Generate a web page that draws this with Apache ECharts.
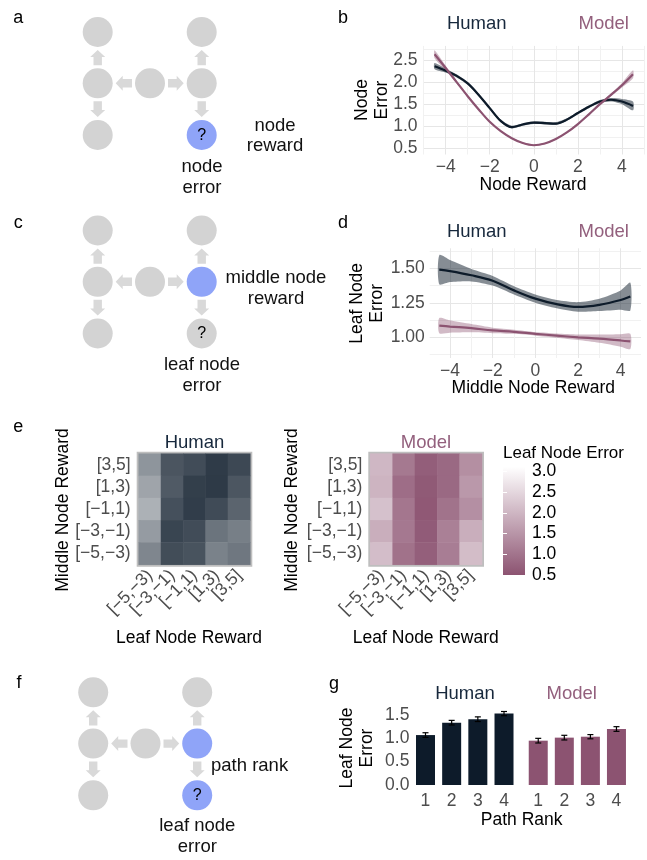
<!DOCTYPE html>
<html><head><meta charset="utf-8">
<script src="https://cdn.jsdelivr.net/npm/echarts@6/dist/echarts.min.js"></script>
<style>html,body{margin:0;padding:0;background:#fff}#c{width:647px;height:860px}</style>
</head><body><div id="c"></div>
<script>
// ---------- data ----------
const nodeRewardX = [-4.5,-4,-3.5,-3,-2.5,-2,-1.5,-1,-0.5,0,0.5,1,1.5,2,2.5,3,3.5,4,4.5];
const humanNodeErr = [2.36,2.26,2.14,1.97,1.71,1.41,1.12,0.98,1.04,1.08,1.07,1.06,1.15,1.30,1.44,1.56,1.60,1.56,1.46];
const humanNodeSe  = [0.07,0.045,0.035,0.03,0.03,0.03,0.03,0.03,0.03,0.03,0.03,0.03,0.03,0.03,0.03,0.035,0.04,0.06,0.10];
const modelNodeErr = [2.63,2.32,2.00,1.68,1.38,1.10,0.89,0.73,0.62,0.57,0.61,0.71,0.86,1.05,1.27,1.50,1.71,1.93,2.18];
const modelNodeSe  = [0.09,0.05,0.03,0.02,0.02,0.015,0.015,0.015,0.015,0.015,0.015,0.015,0.015,0.015,0.02,0.02,0.03,0.05,0.09];

const middleRewardX = [-4.5,-4,-3,-2,-1,0,1,2,3,4,4.45];
const humanLeafErr = [1.49,1.48,1.45,1.41,1.34,1.28,1.24,1.22,1.235,1.27,1.295];
const humanLeafSe  = [0.105,0.08,0.045,0.035,0.03,0.03,0.03,0.035,0.045,0.07,0.10];
const modelLeafErr = [1.085,1.078,1.066,1.05,1.04,1.025,1.012,1.0,0.99,0.977,0.97];
const modelLeafSe  = [0.055,0.045,0.03,0.02,0.015,0.013,0.015,0.02,0.03,0.045,0.055];

const heatCats = ['[\u22125,\u22123)','[\u22123,\u22121)','[\u22121,1)','[1,3)','[3,5]'];
// rows listed top ([3,5]) to bottom ([-5,-3)), columns left to right
const humanHeat = [
  [1.90,1.17,1.06,0.87,1.02],
  [2.08,1.22,0.91,0.86,1.18],
  [2.22,1.11,0.89,1.05,1.34],
  [1.97,0.98,1.06,1.52,1.65],
  [1.73,1.07,1.14,1.68,1.56]
];
const modelHeat = [
  [2.03,1.08,0.66,0.83,1.41],
  [1.98,0.90,0.60,0.83,1.55],
  [2.17,1.04,0.58,0.98,1.42],
  [1.88,1.07,0.62,1.18,1.88],
  [2.12,0.97,0.69,1.14,2.11]
];
const legendRange = [0.5, 3.12];
const legendTicks = [0.5,1.0,1.5,2.0,2.5,3.0];

const pathRanks = ['1','2','3','4'];
const humanPathErr = [1.07,1.335,1.41,1.53];
const humanPathSe  = [0.05,0.05,0.05,0.045];
const modelPathErr = [0.95,1.015,1.035,1.20];
const modelPathSe  = [0.05,0.05,0.045,0.05];

const bYTicks = [0.5,0.75,1,1.25,1.5,1.75,2,2.25,2.5,2.75];
const bYLabels = [0.5,1,1.5,2,2.5];
const dXTicks = [-4,-3,-2,-1,0,1,2,3,4];
const dXLabels = [-4,-2,0,2,4];
const dYTicks = [0.875,1,1.125,1.25,1.375,1.5,1.625];
const dYLabels = [1,1.25,1.5];
const gYLabels = [0,0.5,1,1.5];

// ---------- style ----------
const FONT = '"Liberation Sans", Arial, Helvetica, sans-serif';
const HUMAN = '#0D1B2A', MODEL = '#8C5371';
const HUMAN_TXT = '#17283C', MODEL_TXT = '#93607D';
const MAJ = '#E6E6E6', MIN = '#F1F1F1';
const TICK = '#4D4D4D';
const NODE = '#D3D3D3', ARROW = '#D9D9D9', BLUE = '#8FA4F8';
const TS = 17.5;

function signed(v, d){ const s = Math.abs(v).toFixed(d); return v < -1e-9 ? '\u2212' + s : s; }

function band(xs, ys, se, color, xi, yi){
  return {type:'custom', xAxisIndex:xi, yAxisIndex:yi, data:[[xs[0], ys[0]]], silent:true, clip:true, z:1,
    renderItem:(params, api) => {
      const up = xs.map((x,i)=>api.coord([x, ys[i]+se[i]]));
      const lo = xs.map((x,i)=>api.coord([x, ys[i]-se[i]])).reverse();
      return {type:'polygon', shape:{points: up.concat(lo), smooth:0.25}, style:{fill:color}};
    }};
}
function curve(xs, ys, color, xi, yi){
  return {type:'line', xAxisIndex:xi, yAxisIndex:yi, data: xs.map((x,i)=>[x, ys[i]]),
    smooth:0.35, symbol:'none', lineStyle:{color, width:2.2}, itemStyle:{color}, silent:true, z:3};
}
function heatData(m){
  const out = [];
  m.forEach((row, r) => row.forEach((v, c) => out.push([c, m.length-1-r, v])));
  return out;
}
function errSeries(vals, ses, xi, yi){
  return {type:'custom', xAxisIndex:xi, yAxisIndex:yi, z:5, silent:true,
    data: vals.map((v,i)=>[i, v, ses[i]]), encode:{x:0, y:1},
    renderItem:(params, api) => {
      const i = api.value(0), v = api.value(1), e = api.value(2);
      const t = api.coord([i, v+e]), b = api.coord([i, v-e]), w = 3;
      const st = {stroke:'#000', lineWidth:1.2};
      return {type:'group', children:[
        {type:'line', shape:{x1:t[0], y1:t[1], x2:b[0], y2:b[1]}, style:st},
        {type:'line', shape:{x1:t[0]-w, y1:t[1], x2:t[0]+w, y2:t[1]}, style:st},
        {type:'line', shape:{x1:b[0]-w, y1:b[1], x2:b[0]+w, y2:b[1]}, style:st}
      ]};
    }};
}

// ---------- graphic helpers ----------
function txt(x, y, s, o){
  o = o || {};
  return {type:'text', x, y, z:100, silent:true, rotation:o.rotation||0,
    style:{text:s, fontFamily:FONT, fontSize:o.size||18, fill:o.color||'#000',
      align:o.align||'center', textAlign:o.align||'center', verticalAlign:'middle', textVerticalAlign:'middle',
      lineHeight:o.lh||20}};
}
function arrowPoly(a, b){
  const dx = b[0]-a[0], dy = b[1]-a[1], L = Math.hypot(dx, dy);
  const ux = dx/L, uy = dy/L, nx = -uy, ny = ux, off = 18;
  const tail = [a[0]+ux*off, a[1]+uy*off], tip = [b[0]-ux*off, b[1]-uy*off];
  const neck = [tip[0]-ux*7, tip[1]-uy*7], sw = 4.2, hw = 7.5;
  const p = (q, s) => [q[0]+nx*s, q[1]+ny*s];
  return {type:'polygon', silent:true, z:50, shape:{points:[p(tail,sw), p(neck,sw), p(neck,hw), tip, p(neck,-hw), p(neck,-sw), p(tail,-sw)]}, style:{fill:ARROW}};
}
function diagram(dx, dy, blue, q){
  const cols = [97.7+dx, 150+dx, 201.7+dx], rows = [32+dy, 83.3+dy, 135+dy];
  const N = {TL:[cols[0],rows[0]], ML:[cols[0],rows[1]], BL:[cols[0],rows[2]], C:[cols[1],rows[1]],
             TR:[cols[2],rows[0]], MR:[cols[2],rows[1]], BR:[cols[2],rows[2]]};
  const els = [];
  Object.keys(N).forEach(k => els.push({type:'circle', silent:true, z:50, shape:{cx:N[k][0], cy:N[k][1], r:15},
    style:{fill: blue.indexOf(k) >= 0 ? BLUE : NODE}}));
  [['C','ML'],['C','MR'],['ML','TL'],['ML','BL'],['MR','TR'],['MR','BR']].forEach(e => els.push(arrowPoly(N[e[0]], N[e[1]])));
  els.push(txt(N[q][0], N[q][1]+0.5, '?', {size:16}));
  return els;
}

const graphics = [].concat(
  diagram(0, 0, ['BR'], 'BR'),
  diagram(0, 198.5, ['MR'], 'BR'),
  diagram(-4.5, 660.3, ['MR','BR'], 'BR'),
  [
    txt(18.3, 18.3, 'a'), txt(343, 18, 'b'), txt(18.3, 223.3, 'c'), txt(343, 223, 'd'),
    txt(18.3, 427, 'e'), txt(19, 683, 'f'), txt(334, 684, 'g'),
    txt(275, 136, 'node\nreward', {size:18.5, color:'#111', lh:20}),
    txt(202, 177.5, 'node\nerror', {size:18.5, color:'#111', lh:21}),
    txt(276, 288.5, 'middle node\nreward', {size:18.5, color:'#111', lh:21}),
    txt(202, 375.5, 'leaf node\nerror', {size:18.5, color:'#111', lh:21}),
    txt(211, 765.7, 'path rank', {size:18.5, color:'#111', align:'left'}),
    txt(197.3, 836.2, 'leaf node\nerror', {size:18.5, color:'#111', lh:21}),
    // panel titles
    txt(476.7, 24, 'Human', {size:18.5, color:HUMAN_TXT}), txt(603.7, 24, 'Model', {size:18.5, color:MODEL_TXT}),
    txt(476.7, 231.7, 'Human', {size:18.5, color:HUMAN_TXT}), txt(603.7, 231.7, 'Model', {size:18.5, color:MODEL_TXT}),
    txt(194.5, 443, 'Human', {size:18.5, color:HUMAN_TXT}), txt(426, 443, 'Model', {size:18.5, color:MODEL_TXT}),
    txt(465, 694, 'Human', {size:18.5, color:HUMAN_TXT}), txt(571.7, 694, 'Model', {size:18.5, color:MODEL_TXT}),
    // axis titles
    txt(533, 185, 'Node Reward', {size:17.5}),
    txt(371.7, 100, 'Node\nError', {size:17.5, rotation:Math.PI/2, lh:20}),
    txt(533.3, 388.3, 'Middle Node Reward', {size:17.5}),
    txt(366.7, 303.3, 'Leaf Node\nError', {size:17.5, rotation:Math.PI/2, lh:20}),
    txt(63, 510, 'Middle Node Reward', {size:17.5, rotation:Math.PI/2}),
    txt(291.7, 510, 'Middle Node Reward', {size:17.5, rotation:Math.PI/2}),
    txt(189, 638, 'Leaf Node Reward', {size:17.5}),
    txt(425.8, 638, 'Leaf Node Reward', {size:17.5}),
    txt(503, 453, 'Leaf Node Error', {size:17, align:'left'}),
    txt(521.7, 820, 'Path Rank', {size:17.5}),
    txt(356.7, 748, 'Leaf Node\nError', {size:17.5, rotation:Math.PI/2, lh:20})
  ]
);

// ---------- axes ----------
const lbl = (o) => Object.assign({fontSize:TS, color:TICK, fontFamily:FONT}, o);
const noLine = {show:false};

const option = {
  animation:false,
  textStyle:{fontFamily:FONT},
  grid:[
    {left:423.6, top:45.9, width:221.2, height:108.6},          // b
    {left:429.7, top:248.3, width:211.3, height:109.7},         // d
    {left:138.7, top:453.7, width:111.6, height:111, show:true, borderColor:'#BEBEBE', borderWidth:4, backgroundColor:'transparent'}, // e human
    {left:370.3, top:453.7, width:111.7, height:111, show:true, borderColor:'#BEBEBE', borderWidth:4, backgroundColor:'transparent'}, // e model
    {left:503, top:466.7, width:22, height:108.3},               // colour bar
    {left:412.4, top:708, width:104.7, height:77},               // g human
    {left:525.2, top:708, width:104.3, height:77}                // g model
  ],
  xAxis:[
    {gridIndex:0, type:'value', min:-5, max:5, interval:1, axisLine:noLine, axisTick:{show:false},
      axisLabel:lbl({margin:4, formatter:v => (Math.round(v)%2===0 && Math.abs(v)<5) ? signed(v,0) : ''}),
      splitLine:{show:true, lineStyle:{color:[MIN, MAJ], width:1}}},
    {gridIndex:1, type:'value', min:-4.95, max:4.95, axisLine:noLine, axisTick:{show:false, customValues:dXTicks},
      axisLabel:lbl({margin:4, customValues:dXLabels, formatter:v => signed(v,0)}),
      splitLine:{show:true, lineStyle:{color:[MAJ, MIN], width:1}}},
    {gridIndex:2, type:'category', data:heatCats, axisLine:noLine, axisTick:{show:false}, splitLine:{show:false},
      axisLabel:lbl({rotate:45, margin:8, interval:0})},
    {gridIndex:3, type:'category', data:heatCats, axisLine:noLine, axisTick:{show:false}, splitLine:{show:false},
      axisLabel:lbl({rotate:45, margin:8, interval:0})},
    {gridIndex:4, type:'value', min:0, max:1, show:false},
    {gridIndex:5, type:'category', data:pathRanks, axisLine:noLine, axisTick:{show:false}, axisLabel:lbl({margin:7})},
    {gridIndex:6, type:'category', data:pathRanks, axisLine:noLine, axisTick:{show:false}, axisLabel:lbl({margin:7})}
  ],
  yAxis:[
    {gridIndex:0, type:'value', min:0.36, max:2.82, axisLine:noLine, axisTick:{show:false, customValues:bYTicks},
      axisLabel:lbl({margin:6, customValues:bYLabels, formatter:v => v.toFixed(1)}),
      splitLine:{show:true, lineStyle:{color:[MAJ, MIN], width:1}}},
    {gridIndex:1, type:'value', min:0.85, max:1.645, axisLine:noLine, axisTick:{show:false, customValues:dYTicks},
      axisLabel:lbl({margin:5, customValues:dYLabels, formatter:v => v.toFixed(2)}),
      splitLine:{show:true, lineStyle:{color:[MIN, MAJ], width:1}}},
    {gridIndex:2, type:'category', data:heatCats, axisLine:noLine, axisTick:{show:false}, splitLine:{show:false},
      axisLabel:lbl({margin:8, interval:0})},
    {gridIndex:3, type:'category', data:heatCats, axisLine:noLine, axisTick:{show:false}, splitLine:{show:false},
      axisLabel:lbl({margin:8, interval:0})},
    {gridIndex:4, type:'value', position:'right', min:legendRange[0], max:legendRange[1], z:10, axisLine:noLine,
      axisTick:{show:true, inside:true, length:4, customValues:legendTicks, lineStyle:{color:'#fff', width:1}},
      axisLabel:lbl({color:'#000', margin:7, customValues:legendTicks, formatter:v => v.toFixed(1)}), splitLine:{show:false}},
    {gridIndex:4, type:'value', position:'left', min:legendRange[0], max:legendRange[1], z:10, axisLine:noLine,
      axisTick:{show:true, inside:true, length:4, customValues:legendTicks, lineStyle:{color:'#fff', width:1}},
      axisLabel:{show:false}, splitLine:{show:false}},
    {gridIndex:5, type:'value', min:0, max:1.65, axisLine:noLine, axisTick:{show:false, customValues:gYLabels},
      axisLabel:lbl({margin:3, customValues:gYLabels, formatter:v => v.toFixed(1)}), splitLine:{show:false}},
    {gridIndex:6, type:'value', min:0, max:1.65, show:false, splitLine:{show:false}}
  ],
  visualMap:[
    {type:'continuous', show:false, seriesIndex:8, dimension:2, min:legendRange[0], max:legendRange[1], inRange:{color:[HUMAN, '#FFFFFF']}},
    {type:'continuous', show:false, seriesIndex:9, dimension:2, min:legendRange[0], max:legendRange[1], inRange:{color:[MODEL, '#FFFFFF']}}
  ],
  graphic:{elements:graphics},
  series:[
    band(nodeRewardX, humanNodeErr, humanNodeSe, 'rgba(13,27,42,0.5)', 0, 0),
    curve(nodeRewardX, humanNodeErr, HUMAN, 0, 0),
    band(nodeRewardX, modelNodeErr, modelNodeSe, 'rgba(140,83,113,0.4)', 0, 0),
    curve(nodeRewardX, modelNodeErr, MODEL, 0, 0),
    band(middleRewardX, humanLeafErr, humanLeafSe, 'rgba(13,27,42,0.5)', 1, 1),
    curve(middleRewardX, humanLeafErr, HUMAN, 1, 1),
    band(middleRewardX, modelLeafErr, modelLeafSe, 'rgba(140,83,113,0.4)', 1, 1),
    curve(middleRewardX, modelLeafErr, MODEL, 1, 1),
    {type:'heatmap', xAxisIndex:2, yAxisIndex:2, data:heatData(humanHeat), silent:true, emphasis:{disabled:true}},
    {type:'heatmap', xAxisIndex:3, yAxisIndex:3, data:heatData(modelHeat), silent:true, emphasis:{disabled:true}},
    {type:'custom', xAxisIndex:4, yAxisIndex:4, data:[[0, legendRange[0]]], silent:true, z:2,
      renderItem:(params, api) => {
        const a = api.coord([0, legendRange[0]]), b = api.coord([1, legendRange[1]]);
        return {type:'rect', shape:{x:a[0], y:b[1], width:b[0]-a[0], height:a[1]-b[1]},
          style:{fill:new echarts.graphic.LinearGradient(0,0,0,1,[{offset:0,color:'#FFFFFF'},{offset:1,color:MODEL}])}};
      }},
    {type:'bar', xAxisIndex:5, yAxisIndex:6, data:humanPathErr, barWidth:19, itemStyle:{color:HUMAN}, silent:true},
    {type:'bar', xAxisIndex:6, yAxisIndex:7, data:modelPathErr, barWidth:19, itemStyle:{color:MODEL}, silent:true},
    errSeries(humanPathErr, humanPathSe, 5, 6),
    errSeries(modelPathErr, modelPathSe, 6, 7)
  ]
};
const chart = echarts.init(document.getElementById('c'), null, {renderer:'canvas', width:647, height:860});
chart.setOption(option);
</script></body></html>
